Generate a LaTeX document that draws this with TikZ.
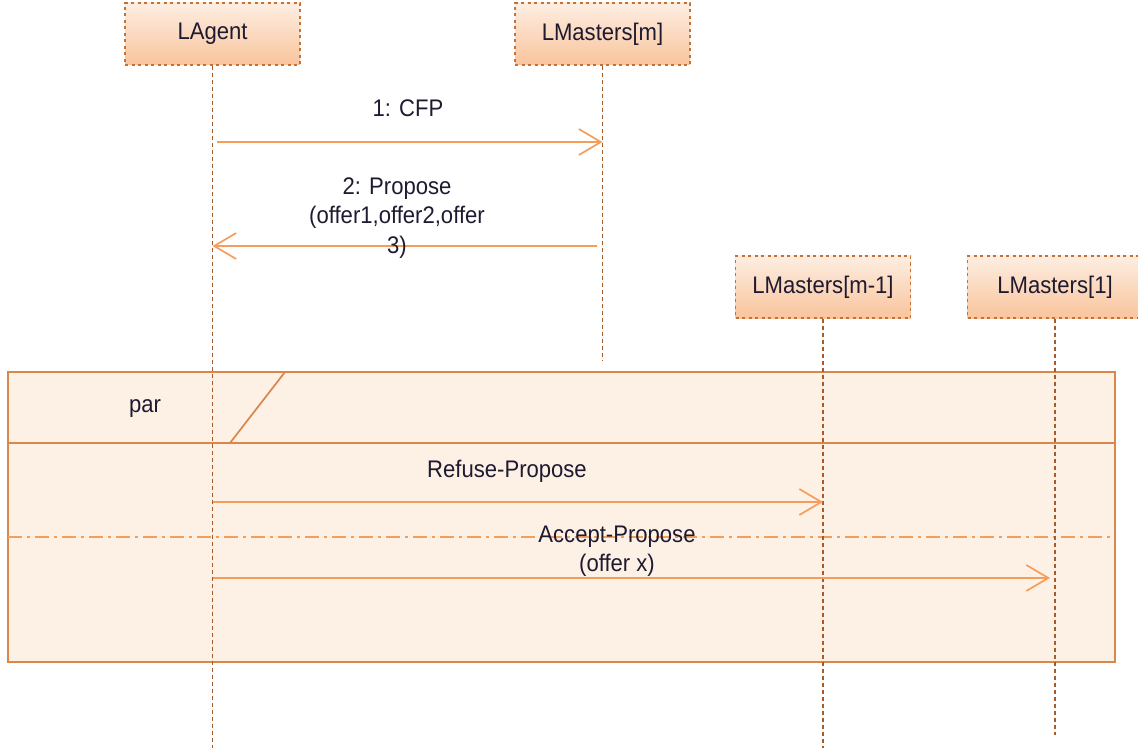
\documentclass[tikz,border=0pt]{standalone}
\usepackage{fontspec}
\setmainfont[FakeStretch=0.92]{Liberation Sans}
\usetikzlibrary{arrows.meta}
\definecolor{boxtop}{HTML}{FDEEE2}
\definecolor{boxbot}{HTML}{F9C49C}
\definecolor{boxline}{HTML}{C47238}
\definecolor{msg}{HTML}{F59E5C}
\definecolor{framefill}{HTML}{FDF0E5}
\definecolor{frameline}{HTML}{D9874A}
\definecolor{lifecol}{HTML}{A85A28}
\definecolor{txt}{HTML}{1E1A30}

\tikzset{
  actor/.style={draw=boxline, dash pattern=on 3pt off 3.5pt, line width=1.4pt,
    top color=boxtop, bottom color=boxbot, minimum width=175pt, minimum height=62pt,
    inner sep=0pt, font=\fontsize{24}{28}\selectfont, text=txt},
  lifeline/.style={draw=lifecol, line width=1.1pt, dash pattern=on 4pt off 3pt},
  message/.style={draw=msg, line width=1.7pt, -{Straight Barb[length=22pt,width=26pt,line width=1.7pt]}},
  msglabel/.style={font=\fontsize{24}{29.5}\selectfont, text=txt, align=center, inner sep=0pt},
  frame/.style={draw=frameline, line width=1.7pt},
  divider/.style={draw=msg, line width=1.6pt, dash pattern=on 14pt off 5pt on 3pt off 5pt}
}

\begin{document}
\begin{tikzpicture}[x=1pt,y=-1pt]
\useasboundingbox (0,0) rectangle (1138,754);

% combined fragment "par"
\fill[framefill] (8,372) rectangle (1115,662);
\draw[frame] (8,372) rectangle (1115,662);
\draw[frame] (8,443) -- (1115,443);
\draw[frame] (285,372) -- (230,443);
\node[msglabel] (par) at (145,409) {par};
\draw[divider] (8,537) -- (1115,537);

% participants
\begin{scope}
\clip (0,0) rectangle (1138,754);
\node[actor] (agent) at (212.5,34) {\raisebox{-2pt}{LAgent}};
\node[actor] (mm) at (602.5,34) {\raisebox{-2pt}{LMasters[m]}};
\node[actor] (mm1) at (823,287) {\raisebox{-2pt}{LMasters[m-1]}};
\node[actor] (m1) at (1055,287) {\raisebox{-2pt}{LMasters[1]}};
\end{scope}

% lifelines
\coordinate (agentEnd) at (212.5,748);
\coordinate (mmEnd) at (602.5,360);
\coordinate (mm1End) at (823,748);
\coordinate (m1End) at (1055,735);
\draw[lifeline] (agent.south) -- (agentEnd);
\draw[lifeline] (mm.south) -- (mmEnd);
\draw[lifeline] (mm1.south) -- (mm1End);
\draw[lifeline] (m1.south) -- (m1End);

% message end points on the lifelines
\coordinate (cfpFrom) at (217,142);
\coordinate (cfpTo) at (602.5,142);
\coordinate (propFrom) at (597,246);
\coordinate (propTo) at (212.5,246);
\coordinate (refFrom) at (212.5,502);
\coordinate (refTo) at (823,502);
\coordinate (accFrom) at (212.5,578);
\coordinate (accTo) at (1050,578);

\draw[message] (cfpFrom) -- (cfpTo);
\draw[message] (propFrom) -- (propTo);
\draw[message] (refFrom) -- (refTo);
\draw[message] (accFrom) -- (accTo);

% message labels
\node[msglabel] (cfpLbl) at (408,108) {1: CFP};
\node[msglabel] (propLbl) at (397,218) {2: Propose\\(offer1,offer2,offer\\3)};
\node[msglabel] (refLbl) at (507,471) {Refuse-Propose};
\node[msglabel] (accLbl) at (617,551) {Accept-Propose\\(offer x)};
\end{tikzpicture}
\end{document}
